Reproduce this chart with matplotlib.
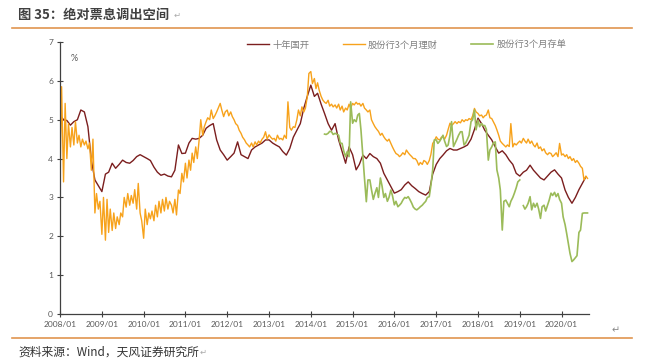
import matplotlib
matplotlib.use("Agg")
import matplotlib.pyplot as plt
import matplotlib.dates as mdates
from matplotlib.lines import Line2D
import numpy as np
import pandas as pd

# 十年国开, monthly, 2008/01 - 2020/08
cdb_10y = [
    5.12, 5.0, 4.98, 4.86, 4.95, 5.0, 5.25, 5.2, 4.82, 3.96, 3.45, 3.3,
    3.15, 3.6, 3.65, 3.88, 3.75, 3.85, 3.96, 3.9, 3.88, 3.95, 4.05, 4.1,
    4.05, 4.0, 3.95, 3.78, 3.65, 3.57, 3.6, 3.55, 3.53, 3.7, 4.35, 4.13,
    4.14, 4.4, 4.52, 4.5, 4.52, 4.6, 4.78, 4.85, 4.9, 4.48, 4.22, 4.1,
    3.96, 4.05, 4.14, 4.43, 4.1, 4.05, 4.0, 4.22, 4.3, 4.35, 4.4, 4.48,
    4.48, 4.4, 4.35, 4.3, 4.18, 4.09, 4.26, 4.55, 4.73, 4.9, 5.3, 5.6,
    5.89, 5.6, 5.68, 5.4, 5.16, 4.9, 4.73, 4.9, 4.48, 4.18, 3.88, 4.3,
    4.1, 3.71, 3.85, 4.09, 4.0, 4.13, 4.05, 4.0, 3.88, 3.62, 3.45, 3.28,
    3.11, 3.15, 3.2, 3.32, 3.4, 3.3, 3.23, 3.15, 3.1, 3.06, 3.15, 3.6,
    3.85, 4.0, 4.09, 4.2, 4.26, 4.22, 4.22, 4.26, 4.3, 4.35, 4.5, 4.75,
    5.04, 4.9, 4.73, 4.6, 4.48, 4.3, 4.14, 4.2, 4.1, 3.96, 3.85, 3.62,
    3.55, 3.65, 3.7, 3.83, 3.7, 3.6, 3.5, 3.45, 3.55, 3.65, 3.71, 3.6,
    3.5, 3.19, 3.0, 2.85, 3.0, 3.2, 3.36, 3.53,
]

# 股份行3个月理财, semi-monthly (1st and 15th), 2008/01 - 2020/08
wmp_3m = [
    3.5, 5.85, 3.4, 5.42, 4.0, 4.9, 4.3, 4.8, 4.35, 4.95, 4.4, 4.6,
    4.3, 4.5, 4.35, 4.45, 4.25, 4.4, 3.7, 4.5, 2.6, 3.1, 2.7, 2.9,
    2.05, 3.0, 1.9, 2.95, 2.1, 2.7, 2.15, 2.6, 2.2, 2.5, 2.3, 2.6,
    2.5, 3.0, 2.75, 3.1, 2.8, 3.05, 2.85, 3.2, 2.7, 3.36, 2.6, 2.4,
    1.95, 2.7, 2.3, 2.6, 2.45, 2.65, 2.4, 2.8, 2.5, 2.9, 2.6, 2.95,
    2.65, 3.0, 2.7, 2.9, 2.8, 2.6, 2.95, 2.55, 3.19, 3.1, 3.62, 3.4,
    3.88, 3.5, 3.96, 3.7, 4.14, 3.9, 4.3, 4.0, 4.48, 5.0, 4.6, 4.82,
    4.95, 5.05, 5.0, 5.25, 5.03, 5.1, 5.2, 5.3, 5.42, 5.25, 5.08, 5.2,
    5.25, 5.1, 5.2, 5.08, 5.0, 4.9, 4.85, 4.73, 4.65, 4.55, 4.48, 4.4,
    4.35, 4.3, 4.4, 4.3, 4.43, 4.35, 4.45, 4.4, 4.5, 4.55, 4.69, 4.5,
    4.61, 4.55, 4.5, 4.52, 4.45, 4.6, 4.5, 4.52, 4.48, 4.6, 4.52, 5.46,
    4.8, 4.73, 4.82, 4.8, 5.0, 5.25, 5.1, 5.33, 5.2, 5.3, 5.59, 6.19,
    6.24, 5.93, 6.06, 5.8, 5.95, 5.76, 5.6, 5.51, 5.45, 5.42, 5.5, 5.35,
    5.4, 5.33, 5.38, 5.3, 5.4, 5.25, 5.35, 5.2, 5.3, 5.25, 5.4, 5.3,
    5.42, 5.38, 5.45, 5.4, 5.42, 5.35, 5.42, 5.3, 5.25, 5.2, 5.25, 5.0,
    4.9, 4.82, 4.75, 4.7, 4.6, 4.65, 4.56, 4.5, 4.45, 4.5, 4.39, 4.3,
    4.2, 4.13, 4.1, 4.05, 4.09, 4.15, 4.1, 4.22, 4.15, 4.1, 4.05, 4.0,
    4.0, 3.95, 3.83, 3.9, 3.85, 3.95, 3.92, 3.85, 3.95, 4.1, 4.39, 4.45,
    4.56, 4.5, 4.48, 4.55, 4.56, 4.5, 4.6, 4.75, 4.91, 4.85, 4.9, 4.95,
    4.9, 4.95, 4.92, 5.0, 4.95, 5.0, 4.98, 5.03, 5.0, 5.1, 5.29, 5.2,
    5.16, 5.1, 5.12, 5.05, 5.1, 5.12, 5.25, 5.05, 5.03, 4.95, 4.85, 4.74,
    4.6, 4.45, 4.39, 4.35, 4.3, 4.35, 4.31, 4.9, 4.3, 4.39, 4.35, 4.4,
    4.45, 4.4, 4.52, 4.45, 4.4, 4.5, 4.39, 4.45, 4.35, 4.3, 4.4, 4.26,
    4.3, 4.2, 4.25, 4.15, 4.1, 4.15, 4.13, 4.05, 4.1, 4.15, 4.05, 4.39,
    4.09, 4.12, 4.05, 4.1, 4.0, 4.05, 3.95, 4.0, 3.9, 3.95, 3.88, 3.8,
    3.75, 3.45, 3.55, 3.49,
]

# 股份行3个月存单, semi-monthly from 2014/05 (gap in 2019/01)
cd_3m = [
    4.63, 4.62, 4.65, 4.7, 4.69, 4.62, 4.65, 4.63, 4.6, 4.4, 4.39, 4.2, 4.05, 4.18, 4.05, 5.46,
    4.91, 5.0, 4.95, 5.12, 5.16, 4.74, 4.05, 3.49, 2.89, 3.45, 3.45, 3.2,
    2.95, 3.1, 3.25, 3.0, 3.5, 3.3, 3.0, 3.1, 2.9, 3.0, 3.19, 3.05,
    2.81, 2.9, 2.76, 2.8, 2.85, 2.93, 3.0, 2.98, 3.02, 2.95, 2.85, 2.75,
    2.7, 2.68, 2.72, 2.76, 2.8, 2.85, 2.9, 3.0, 3.02, 3.3, 3.71, 4.48,
    4.48, 4.39, 4.45, 4.52, 4.6, 4.45, 4.31, 4.35, 4.6, 4.95, 4.31, 4.4,
    4.5, 4.6, 4.69, 4.69, 4.35, 4.4, 4.5, 4.6, 4.95, 5.0, 5.25, 4.74,
    4.99, 4.82, 4.9, 4.85, 4.85, 4.75, 3.96, 4.22, 4.3, 4.4, 4.43, 3.71,
    3.5, 3.19, 2.16, 2.9, 2.93, 2.85, 2.76, 2.9, 3.0, 3.11, 3.25, 3.4,
    3.45, np.nan, 2.79, 2.7, 2.76, 2.85, 3.02, 2.68, 2.85, 2.75, 2.85, 2.7,
    2.46, 2.76, 2.8, 2.65, 2.8, 2.93, 3.11, 3.05, 3.13, 3.02, 3.1, 2.95,
    2.85, 2.5, 2.3, 2.07, 1.8, 1.56, 1.35, 1.39, 1.45, 1.5, 2.1, 2.16,
    2.59, 2.6, 2.6, 2.6,
]

x_ticks = pd.date_range("2008-01-01", "2020-01-01", freq="YS")
labels = ["十年国开", "股份行3个月理财", "股份行3个月存单"]
colors = ["#7B1E1E", "#F7A21B", "#9BBB59"]

cdb_dates = pd.date_range("2008-01-01", periods=len(cdb_10y), freq="MS")
wmp_dates = pd.date_range("2008-01-01", periods=len(wmp_3m), freq="SMS")
cd_dates = pd.date_range("2014-05-01", periods=len(cd_3m), freq="SMS")

cjk = ["Noto Sans CJK SC", "DejaVu Sans"]
fig = plt.figure(figsize=(6.48, 3.6), dpi=100)
ax = fig.add_axes([60 / 648, 1 - 314 / 360, 529 / 648, 272 / 360])

ax.plot(cdb_dates, cdb_10y, color=colors[0], lw=1.0, label=labels[0])
ax.plot(wmp_dates, wmp_3m, color=colors[1], lw=1.0, label=labels[1])
ax.plot(cd_dates, cd_3m, color=colors[2], lw=1.2, label=labels[2])

ax.set_ylim(0, 7)
ax.set_xlim(pd.Timestamp("2008-01-01"), pd.Timestamp("2020-08-28"))
ax.set_xticks(x_ticks)
ax.xaxis.set_major_formatter(mdates.DateFormatter("%Y/%m"))
ax.set_yticks(range(0, 8))
for s in ["top", "right"]:
    ax.spines[s].set_visible(False)
for s in ["left", "bottom"]:
    ax.spines[s].set_color("#404040")
    ax.spines[s].set_linewidth(0.9)
ax.tick_params(axis="both", direction="inout", length=4, width=0.8, color="#404040",
               labelsize=6, labelcolor="#595959", pad=3)
for t in ax.get_xticklabels() + ax.get_yticklabels():
    t.set_family("Lato")

ax.text(0.02, 0.93, "%", transform=ax.transAxes, fontsize=6.5, color="#595959", family="Lato")

fig.legend(loc="center left", bbox_to_anchor=(247 / 648, 1 - 45 / 360), ncol=3,
           frameon=False, handlelength=2.4, handletextpad=0.3, columnspacing=3.6,
           borderpad=0, borderaxespad=0,
           prop={"family": cjk, "size": 6.7})
for t in fig.legends[0].get_texts():
    t.set_color("#7F7F7F")

# title, rules and source
fig.text(18 / 648, 1 - 15 / 360, "图 35：绝对票息调出空间", fontsize=9.5, fontweight="bold",
         color="#404040", family=cjk, va="center")
fig.text(174 / 648, 1 - 15 / 360, "↵", fontsize=6, color="#AAAAAA", va="center", family="DejaVu Sans")
fig.add_artist(Line2D([12 / 648, 632 / 648], [1 - 28 / 360] * 2, color="#E0954F", lw=1.2))
fig.add_artist(Line2D([12 / 648, 632 / 648], [1 - 338 / 360] * 2, color="#E0954F", lw=1.2))
fig.text(612 / 648, 1 - 330 / 360, "↵", fontsize=7, color="#888888", va="center", family="DejaVu Sans")
fig.text(18 / 648, 1 - 352 / 360, "资料来源：Wind，天风证券研究所", fontsize=8.5,
         color="#333333", family=cjk, va="center")
fig.text(200 / 648, 1 - 352 / 360, "↵", fontsize=6, color="#AAAAAA", va="center", family="DejaVu Sans")

fig.savefig("out.png", dpi=100)
